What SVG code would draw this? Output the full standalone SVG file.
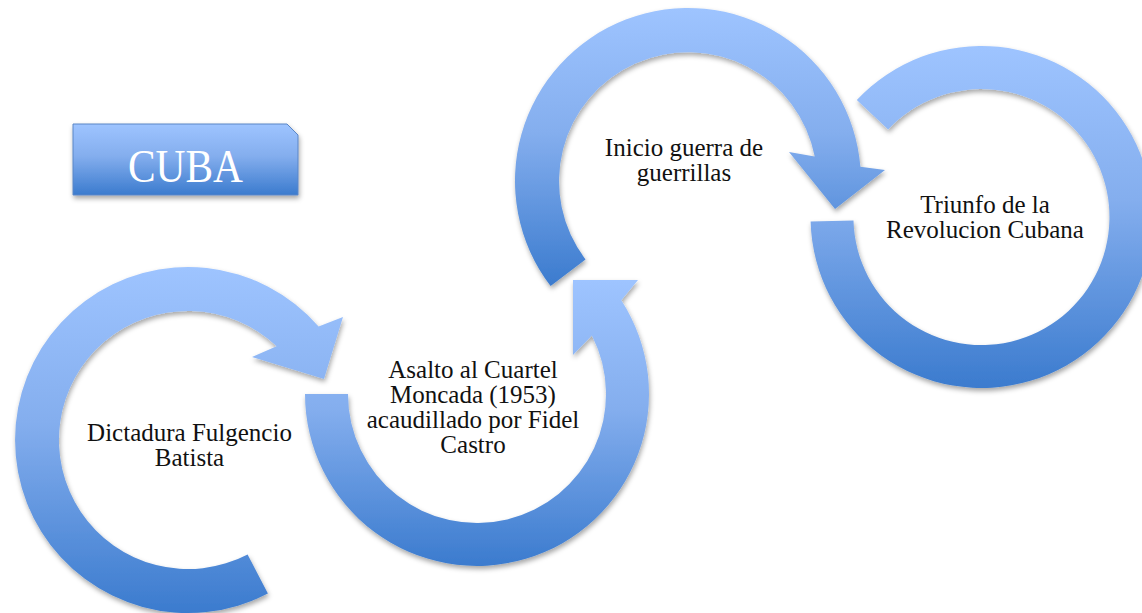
<svg xmlns="http://www.w3.org/2000/svg" width="1142" height="613" viewBox="0 0 1142 613">
  <defs>
    <linearGradient id="blue" x1="0" y1="0" x2="0" y2="1">
      <stop offset="0" stop-color="#9EC4FF"/>
      <stop offset="0.45" stop-color="#84AEEE"/>
      <stop offset="1" stop-color="#3B7BCE"/>
    </linearGradient>
    <filter id="shadow" x="-10%" y="-10%" width="120%" height="125%">
      <feDropShadow dx="1" dy="3" stdDeviation="2.5" flood-color="#000" flood-opacity="0.35"/>
    </filter>
    <style>
      .arrow { fill: url(#blue); filter: url(#shadow); }
      .label { font-family: "Liberation Serif", "Times New Roman", serif; font-size: 25px; fill: #111; text-anchor: middle; }
      .title { font-family: "Liberation Serif", "Times New Roman", serif; font-size: 46px; fill: #fff; text-anchor: middle; }
    </style>
  </defs>
  <rect width="1142" height="613" fill="#fff"/>

  <g id="title-cuba">
    <path d="M73,124 L287,124 L298,135 L298,195 L73,195 Z" fill="url(#blue)" stroke="#5A86C6" stroke-width="1" filter="url(#shadow)"/>
    <text class="title" x="185.5" y="182" textLength="115" lengthAdjust="spacingAndGlyphs">CUBA</text>
  </g>

  <g id="node-dictadura">
    <path class="arrow" d="M267.9,593.5 A173,173 0 1 1 318.6,326.5 L343,317 L324,379 L252,357 L276.6,346.3 A129,129 0 1 0 247.6,554.4 Z"/>
    <text class="label" x="189.5" y="441">Dictadura Fulgencio</text>
    <text class="label" x="189.5" y="466">Batista</text>
  </g>

  <g id="node-asalto">
    <path class="arrow" d="M305,394 A172,172 0 1 0 621.3,300.3 L638,280 L573,280 L573,355 L591.9,335.4 A129,129 0 1 1 348,394 Z"/>
    <text class="label" x="473" y="378">Asalto al Cuartel</text>
    <text class="label" x="473" y="403">Moncada (1953)</text>
    <text class="label" x="473" y="428">acaudillado por Fidel</text>
    <text class="label" x="473" y="453">Castro</text>
  </g>

  <g id="node-inicio">
    <path class="arrow" d="M550.6,286.1 A173,173 0 1 1 860.4,166.8 L885,170 L835,209 L789,152 L814.7,156.6 A129,129 0 1 0 585.5,259.4 Z"/>
    <text class="label" x="684" y="156">Inicio guerra de</text>
    <text class="label" x="684" y="181">guerrillas</text>
  </g>

  <g id="node-triunfo">
    <path class="arrow" d="M810.6,221.5 A171,171 0 1 0 856.8,100 L888.2,129.4 A128,128 0 1 1 853.5,220.4 Z"/>
    <text class="label" x="985" y="213">Triunfo de la</text>
    <text class="label" x="985" y="238">Revolucion Cubana</text>
  </g>

  <g id="connectors"/>
</svg>
